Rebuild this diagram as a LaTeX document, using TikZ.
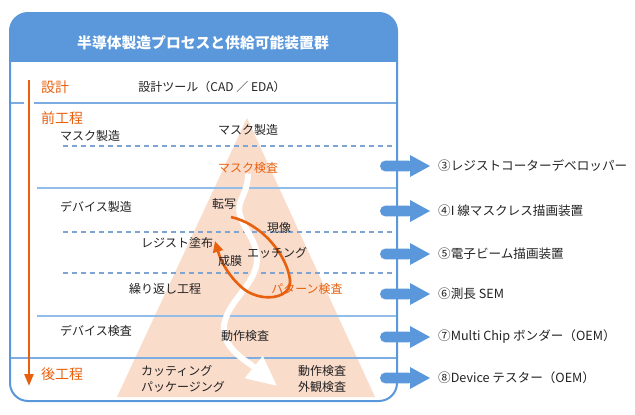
\documentclass[tikz,border=0pt]{standalone}
\usepackage{fontspec}
\setmainfont{Noto Sans CJK JP}
\usetikzlibrary{arrows.meta}
\definecolor{fblue}{HTML}{5A98DB}
\definecolor{lblue}{HTML}{93BDE9}
\definecolor{dblue}{HTML}{7FA4D2}
\definecolor{orng}{HTML}{E8600E}
\definecolor{peach}{HTML}{FADCCB}
\definecolor{txt}{HTML}{222222}
\begin{document}
\begin{tikzpicture}[x=1pt,y=-1pt,
  lbl/.style={font=\fontsize{12}{15.5}\selectfont, text=txt, inner sep=0pt},
  olbl/.style={font=\fontsize{12}{15.5}\selectfont, text=orng, inner sep=0pt},
  headlbl/.style={font=\fontsize{14}{16}\selectfont, text=orng, inner sep=0pt, anchor=west},
  supply/.style={font=\fontsize{12.6}{15}\selectfont, text=txt, inner sep=0pt, anchor=west},
  mainline/.style={draw=fblue!80, line width=1.4pt},
  subline/.style={draw=lblue, line width=1.4pt},
  dashline/.style={draw=dblue, line width=1.2pt, dash pattern=on 5pt off 4pt},
  blockarrow/.style={fill=fblue},
]
\useasboundingbox (0,0) rectangle (635,415);
% frame and title band
\begin{scope}
  \path[clip, rounded corners=18pt] (10,13) rectangle (397,401);
  \fill[white] (10,13) rectangle (397,401);
  \fill[fblue] (10,13) rectangle (397,62);
\end{scope}
\node[font=\fontsize{14.8}{16}\selectfont\bfseries, text=white, inner sep=0pt] (title) at (203,43) {半導体製造プロセスと供給可能装置群};
% pyramid
\fill[peach] (247,118) -- (375,397) -- (117,397) -- cycle;
% divider lines
\draw[mainline] (10,103) -- (24,103);
\draw[mainline] (34,103) -- (397,103);
\draw[subline] (37,188) -- (397,188);
\draw[dashline] (63,146) -- (397,146);
\draw[dashline] (63,232) -- (397,232);
\draw[dashline] (63,273) -- (397,273);
\draw[subline] (37,316) -- (397,316);
\draw[mainline] (10,358) -- (397,358);
\draw[fblue, line width=2pt, rounded corners=18pt] (10,13) rectangle (397,401);
% labels
\node[headlbl] (sekkei) at (41,87) {設計};
\node[lbl] (tool) at (212,87) {設計ツール（CAD ／ EDA）};
\node[headlbl] (mae) at (41,118) {前工程};
\node[lbl, anchor=west] (maskL) at (60,136) {マスク製造};
\node[lbl] (maskC) at (248,130) {マスク製造};
\node[olbl] (maskK) at (248,168) {マスク検査};
\node[lbl, anchor=west] (devL) at (60,207) {デバイス製造};
\node[lbl] (resist) at (177,243) {レジスト塗布};
\node[lbl] (kuri) at (165,289) {繰り返し工程};
\node[lbl, anchor=west] (devk) at (60,331) {デバイス検査};
\node[headlbl] (ato) at (41,374) {後工程};
% orange vertical arrow
\coordinate (vtop) at (29,80);
\coordinate (vbot) at (29,386);
\draw[orng, line width=2.5pt, -{Triangle[length=12pt,width=9pt]}] (vtop) -- (vbot);
% white flow arrow
\coordinate (wtip) at (277,386);
\draw[white, line width=6pt, -{Triangle[length=30pt,width=27pt]}]
  (maskK.south) .. controls (248,195) and (236,200) .. (240,215)
  .. controls (244,230) and (258,242) .. (257,260)
  .. controls (256,285) and (228,300) .. (224,325)
  .. controls (222,340) and (232,352) .. (250,364) -- (wtip);
% orange cycle arrow
\coordinate (ostart) at (231,217);
\coordinate (otip) at (215,241);
\draw[orng, line width=2.6pt, -{Triangle[length=11pt,width=10pt]}]
  (ostart) .. controls (262,224) and (287,255) .. (290,280)
  .. controls (292,298) and (264,303) .. (245,290)
  .. controls (232,280) and (222,265) .. (otip);
% labels drawn over the arrows
\node[lbl] (tensha) at (224,204) {転写};
\node[lbl] (genzo) at (279,228) {現像};
\node[lbl] (seimaku) at (230,261) {成膜};
\node[lbl] (etch) at (277,253) {エッチング};
\node[olbl] (patk) at (307,289) {パターン検査};
\node[lbl] (dosa) at (245,336) {動作検査};
\node[lbl, anchor=west, align=left] (cut) at (141,379) {カッティング\\パッケージング};
\node[lbl, anchor=west, align=left] (final) at (298,379) {動作検査\\外観検査};
% supply arrows
\foreach \yy/\tt/\nn in {166/{③レジストコーターデベロッパー}/s3,
  211/{④I 線マスクレス描画装置}/s4,
  254/{⑤電子ビーム描画装置}/s5,
  294/{⑥測長 SEM}/s6,
  337/{⑦Multi Chip ボンダー（OEM）}/s7,
  378/{⑧Device テスター（OEM）}/s8}{
  \fill[blockarrow, rounded corners=5.4pt] (380,{\yy-5.4}) rectangle (414,{\yy+5.4});
  \fill[blockarrow] (410,{\yy-11}) -- (430,\yy) -- (410,{\yy+11}) -- cycle;
  \node[supply] (\nn) at (438,\yy) {\tt};
}
\end{tikzpicture}
\end{document}
